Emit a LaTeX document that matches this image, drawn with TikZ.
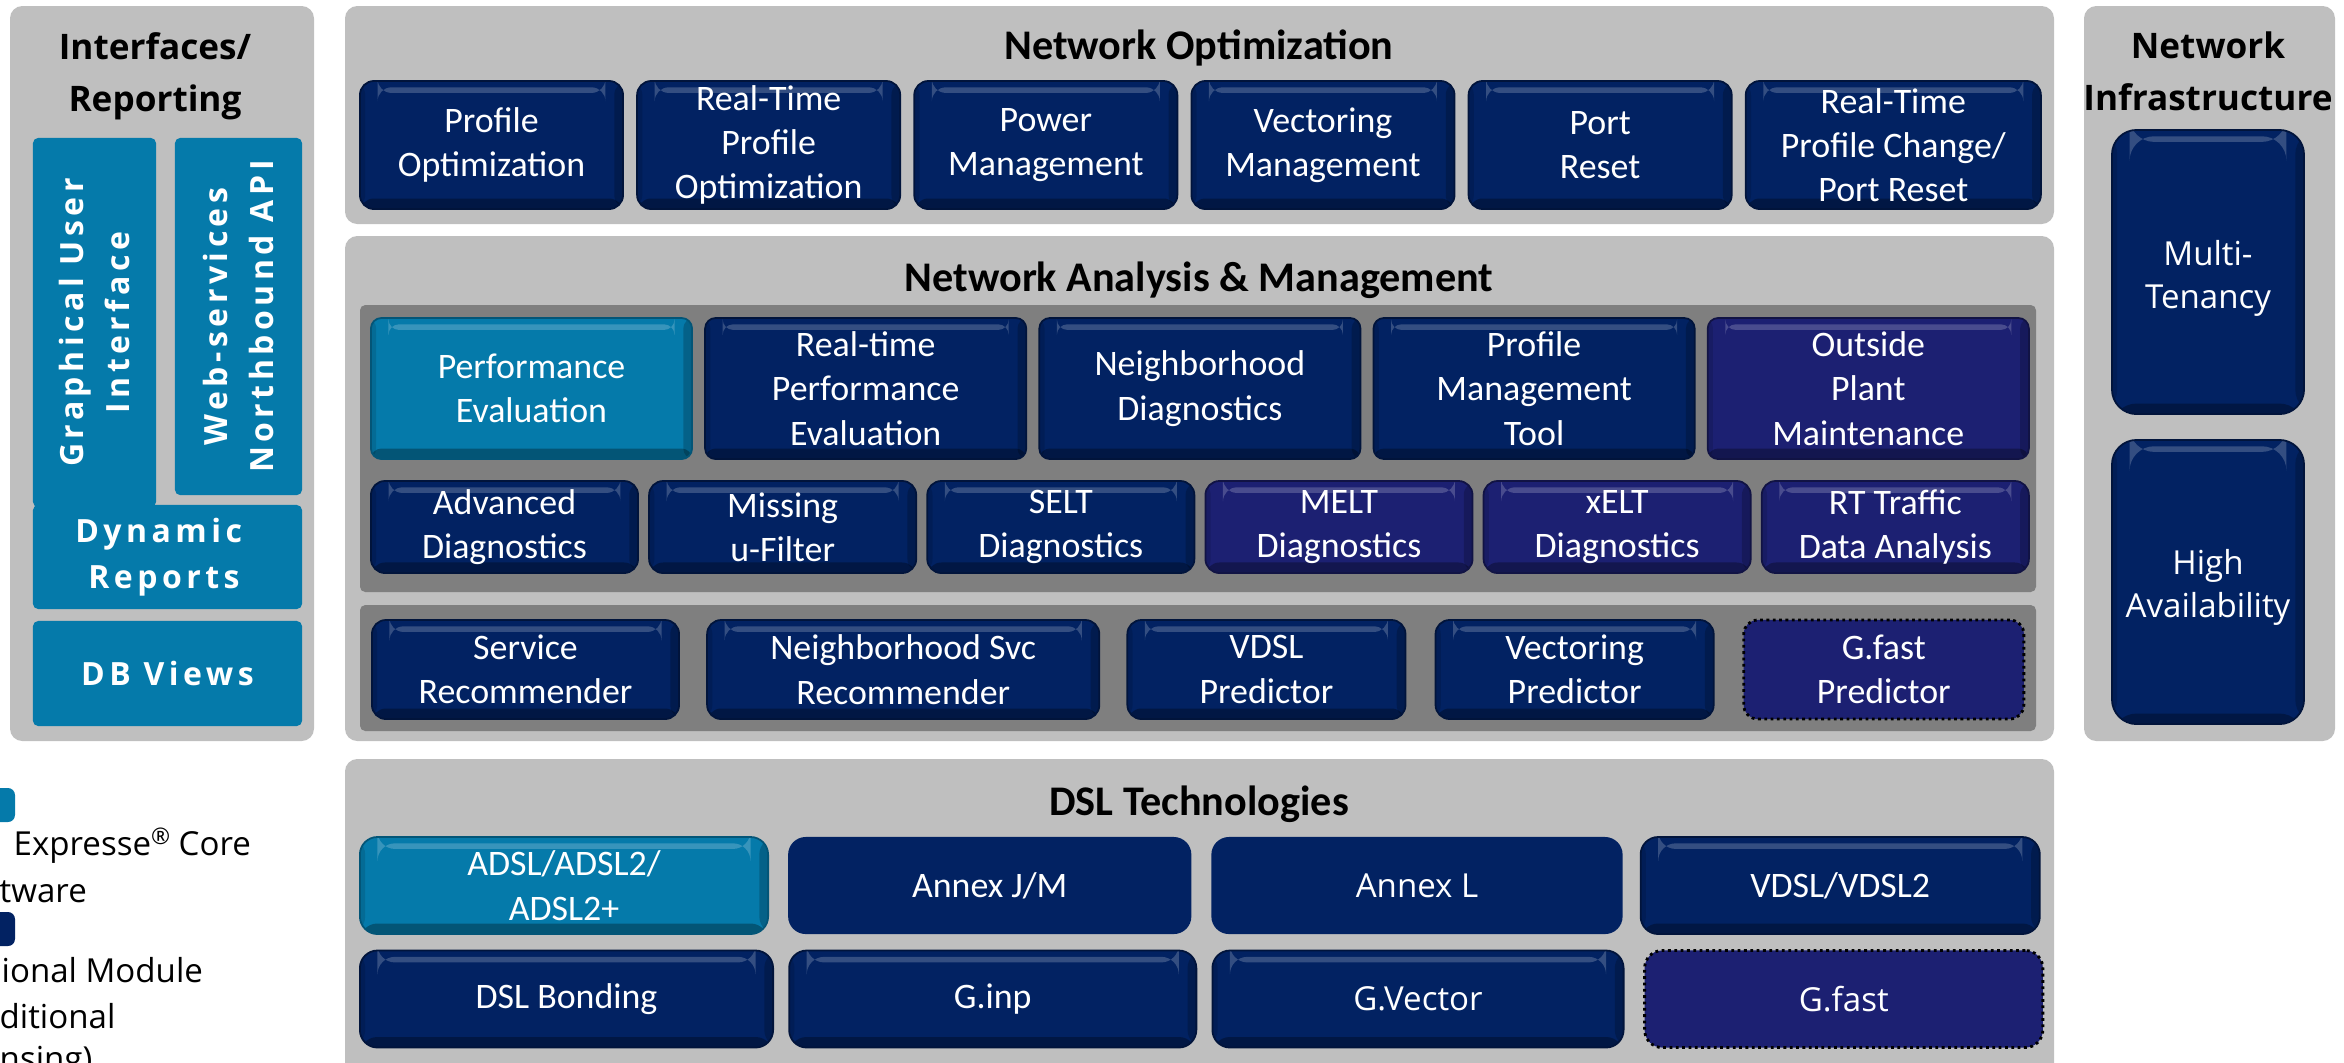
\documentclass[tikz,border=0pt]{standalone}
\usepackage{fontspec}
\setmainfont{Carlito}
\newfontfamily\wideface{Open Sans}
\newfontfamily\spacedface{Open Sans}[LetterSpace=14]
\usepackage{tikz}
\usetikzlibrary{positioning}
\definecolor{panelgray}{RGB}{191,191,191}
\definecolor{innergray}{RGB}{127,127,127}
\definecolor{modnavy}{RGB}{2,34,98}
\definecolor{optindigo}{RGB}{28,32,114}
\definecolor{coreblue}{RGB}{5,122,170}
\tikzstyle{panel}=[fill=panelgray,rounded corners=3.5pt]
\tikzstyle{innerpanel}=[fill=innergray,rounded corners=1.5pt]
\tikzstyle{bevel}=[path picture={
  \fill[white,opacity=.2] ([xshift=5pt,yshift=-1.8pt]path picture bounding box.north west) rectangle ([xshift=-5pt,yshift=-3.4pt]path picture bounding box.north east);
  \fill[black,opacity=.3] ([yshift=3pt]path picture bounding box.south west) rectangle (path picture bounding box.south east);
  \fill[black,opacity=.2] ([xshift=-2.5pt]path picture bounding box.north east) rectangle (path picture bounding box.south east);
  \fill[black,opacity=.12] (path picture bounding box.north west) rectangle ([xshift=1.5pt]path picture bounding box.south west);
}]
\tikzstyle{box}=[rounded corners=4pt,text=white,align=center,inner sep=0pt,outer sep=0pt,font=\fontsize{10.2}{12.6}\selectfont]
\tikzstyle{navybox}=[box,bevel,fill=modnavy,draw=modnavy!60!black,line width=.5pt]
\tikzstyle{corebox}=[box,bevel,fill=coreblue,draw=coreblue!70!black,line width=.5pt]
\tikzstyle{optbox}=[box,bevel,fill=optindigo,draw=optindigo!60!black,line width=.5pt]
\tikzstyle{flatbox}=[box,fill=modnavy]
\tikzstyle{newbox}=[box,fill=optindigo,draw=black,densely dotted,line width=.8pt]
\tikzstyle{ifbox}=[fill=coreblue,rounded corners=1.5pt,text=white,align=center,inner sep=0pt,font=\spacedface\bfseries\fontsize{9.1}{12.8}\selectfont]
\tikzstyle{title}=[inner sep=0pt,align=center,font=\bfseries\fontsize{12}{14}\selectfont]
\tikzstyle{sidetitle}=[inner sep=0pt,align=center,font=\wideface\bfseries\fontsize{10}{14.8}\selectfont]
\tikzstyle{legendtext}=[anchor=west,inner sep=0pt,align=left,font=\wideface\fontsize{9.4}{12.8}\selectfont]
\tikzstyle{toprow}=[navybox,minimum width=2.63cm,minimum height=1.28cm]
\tikzstyle{rowa}=[minimum width=3.21cm,minimum height=1.41cm,rounded corners=3pt]
\tikzstyle{rowb}=[minimum width=2.67cm,minimum height=0.92cm]
\tikzstyle{rowc}=[minimum height=0.99cm]
\tikzstyle{dslrow}=[minimum height=0.97cm,rounded corners=5pt]
\tikzstyle{wide}=[font=\wideface\fontsize{9.4}{12.2}\selectfont]

\begin{document}
\begin{tikzpicture}[x=0.01cm,y=-0.01cm]
\useasboundingbox (0,0) rectangle (2344,1062);
\clip (0,0) rectangle (2344,1062);

% panels
\fill[panel] (10,6) rectangle (314,741);
\fill[panel] (345,6) rectangle (2054,224);
\fill[panel] (345,236) rectangle (2054,741);
\fill[panel] (2084,6) rectangle (2335,741);
\fill[panel] (345,759) rectangle (2054,1090);
\fill[innerpanel] (360,305) rectangle (2036,592);
\fill[innerpanel] (360,605) rectangle (2036,731);

% interfaces / reporting
\node[sidetitle] (iftitle) at (155,76) {Interfaces/\\Reporting};
\node[ifbox,rotate=90,minimum width=3.69cm,minimum height=1.23cm] (gui) at (94.5,322.5) {Graphical User\\Interface};
\node[ifbox,rotate=90,minimum width=3.57cm,minimum height=1.27cm] (ws) at (238.5,316.5) {Web-services\\Northbound API};
\node[ifbox,minimum width=2.69cm,minimum height=1.04cm,font=\spacedface\bfseries\fontsize{9.1}{13.1}\selectfont] (dyn) at (167.5,557) {\hspace*{-5pt}Dynamic\\\hspace*{-2pt}Reports};
\node[ifbox,minimum width=2.69cm,minimum height=1.05cm] (db) at (167.5,673.5) {DB Views};

% network optimization
\node[title] (opttitle) at (1199,48) {Network Optimization};
\node[toprow] (po) at (491.5,145) {Profile\\Optimization};
\node[toprow,right=0.14cm of po] (rtpo) {Real-Time\\Profile\\Optimization};
\node[toprow,right=0.14cm of rtpo] (pm) {Power\\Management};
\node[toprow,right=0.14cm of pm] (vm) {Vectoring\\Management};
\node[toprow,right=0.14cm of vm] (pr) {Port\\Reset};
\node[toprow,minimum width=2.95cm,right=0.14cm of pr] (rtpc) {Real-Time\\Profile Change/\\Port Reset};

% network analysis & management
\node[title] (anatitle) at (1199,280) {Network Analysis \& Management};
\node[corebox,rowa] (pe) at (531.5,388.5) {Performance\\Evaluation};
\node[navybox,rowa,right=0.13cm of pe] (rtpe) {Real-time\\Performance\\Evaluation};
\node[navybox,rowa,right=0.13cm of rtpe] (nd) {Neighborhood\\Diagnostics};
\node[navybox,rowa,right=0.13cm of nd] (pmt) {Profile\\Management\\Tool};
\node[optbox,rowa,right=0.13cm of pmt] (opm) {Outside\\Plant\\Maintenance};

\node[navybox,rowb] (ad) at (504.5,527) {Advanced\\Diagnostics};
\node[navybox,rowb,right=0.11cm of ad] (muf) {Missing\\u-Filter};
\node[navybox,rowb,right=0.11cm of muf] (selt) {SELT\\Diagnostics};
\node[optbox,rowb,right=0.11cm of selt] (melt) {MELT\\Diagnostics};
\node[optbox,rowb,right=0.11cm of melt] (xelt) {xELT\\Diagnostics};
\node[optbox,rowb,right=0.11cm of xelt] (rtt) {RT Traffic\\Data Analysis};

\node[navybox,rowc,minimum width=3.07cm] (sr) at (525.5,669.5) {Service\\Recommender};
\node[navybox,rowc,minimum width=3.92cm,right=0.28cm of sr] (nsr) {Neighborhood Svc\\Recommender};
\node[navybox,rowc,minimum width=2.78cm,right=0.28cm of nsr] (vp) {VDSL\\Predictor};
\node[navybox,rowc,minimum width=2.78cm,right=0.30cm of vp] (vecp) {Vectoring\\Predictor};
\node[newbox,rowc,minimum width=2.80cm,right=0.30cm of vecp] (gfp) {G.fast\\Predictor};

% network infrastructure
\node[sidetitle] (inftitle) at (2208,71) {Network\\Infrastructure};
\node[navybox,wide,rounded corners=7pt,minimum width=1.92cm,minimum height=2.84cm] (mt) at (2208,272) {\rule{0pt}{0.38cm}Multi-\\Tenancy};
\node[navybox,wide,rounded corners=7pt,minimum width=1.92cm,minimum height=2.84cm] (ha) at (2208,582) {\rule{0pt}{0.36cm}High\\Availability};

% dsl technologies
\node[title] (dsltitle) at (1199,804) {DSL Technologies};
\node[corebox,dslrow,minimum width=4.08cm] (adsl) at (564,885.5) {ADSL/ADSL2/\\ADSL2+};
\node[flatbox,dslrow,minimum width=4.03cm,right=0.20cm of adsl] (ajm) {Annex J/M};
\node[flatbox,dslrow,wide,minimum width=4.11cm,right=0.20cm of ajm] (al) {Annex L};
\node[navybox,dslrow,minimum width=3.99cm,right=0.18cm of al] (vdsl) {VDSL/VDSL2};

\node[navybox,dslrow,minimum width=4.13cm] (bond) at (566.5,999) {DSL Bonding};
\node[navybox,dslrow,minimum width=4.07cm,right=0.16cm of bond] (ginp) {G.inp};
\node[navybox,dslrow,wide,minimum width=4.11cm,right=0.16cm of ginp] (gvec) {G.Vector};
\node[newbox,dslrow,wide,minimum width=3.98cm,right=0.21cm of gvec] (gfast) {G.fast};

% legend
\fill[coreblue,rounded corners=2pt] (-20,788) rectangle (15,822);
\fill[modnavy,rounded corners=2pt] (-20,912) rectangle (15,946);
\node[legendtext] (lcore) at (13,846) {Expresse{\fontsize{6.5}{7}\selectfont\raisebox{0.9ex}{®}} Core};
\node[legendtext] (lsoft) at (-1,892) {tware};
\node[legendtext] (lopt) at (1,970) {ional Module};
\node[legendtext] (ladd) at (-1,1016) {ditional};
\node[legendtext] (llic) at (-1,1062) {nsing)};
\end{tikzpicture}
\end{document}
